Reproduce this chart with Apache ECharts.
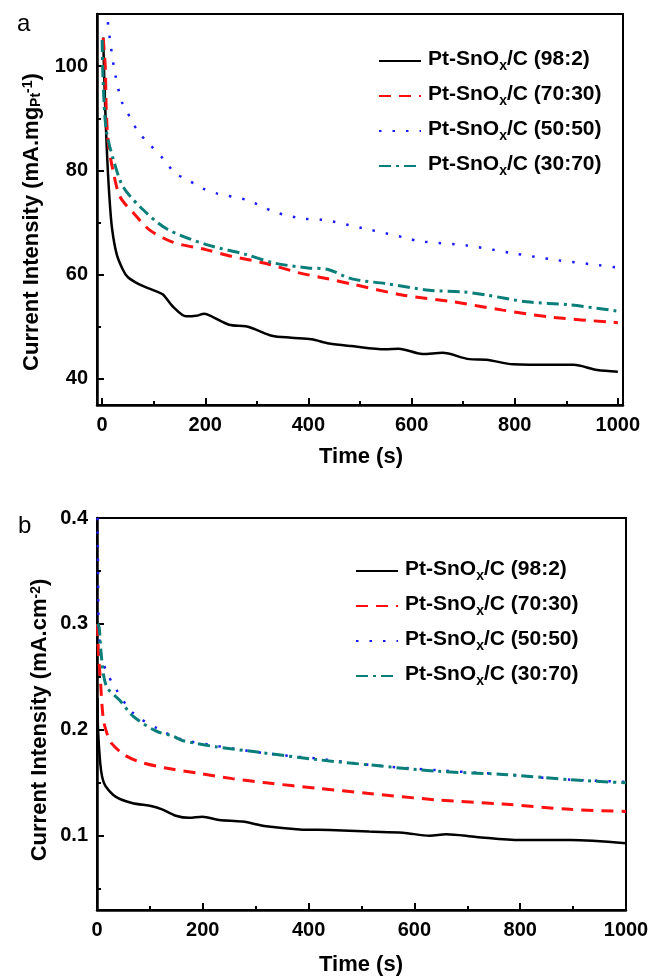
<!DOCTYPE html>
<html><head><meta charset="utf-8">
<script src="https://cdn.jsdelivr.net/npm/echarts@6/dist/echarts.min.js"></script>
<style>html,body{margin:0;padding:0;background:#fff}#c{width:652px;height:977px}</style>
</head><body><div id="c"></div>
<script>
// ---------- data ----------
const names = ['Pt-SnOx/C (98:2)', 'Pt-SnOx/C (70:30)', 'Pt-SnOx/C (50:50)', 'Pt-SnOx/C (30:70)'];

// panel a (mA.mg_Pt^-1)
const aBlackT = [2, 4, 7, 10, 14, 19, 28, 40, 50, 73, 105, 118, 137, 163, 182, 198, 214, 246, 278, 297, 329, 367, 406, 440, 484, 549, 575, 621, 660, 712, 745, 797, 875, 914, 960, 1000];
const aBlackV = [105.5, 98, 89, 82, 75, 69, 64, 61, 59.5, 58.1, 56.8, 56.2, 53.9, 52.0, 52.1, 52.5, 51.9, 50.4, 50.1, 49.5, 48.3, 47.9, 47.6, 46.8, 46.3, 45.7, 45.8, 44.8, 45.0, 43.8, 43.7, 42.8, 42.7, 42.7, 41.7, 41.4];
const aRedT = [2, 6, 8, 12, 22, 35, 61, 93, 138, 201, 252, 316, 380, 438, 484, 582, 680, 777, 875, 1000];
const aRedV = [105.4, 99.9, 91.6, 85.2, 79.5, 74.9, 71.8, 68.5, 66.2, 64.8, 63.5, 62.2, 60.4, 59.2, 58.2, 56.1, 54.8, 53.2, 51.8, 50.8];
const aBlueT = [8, 16, 25, 38, 54, 70, 93, 118, 141, 167, 196, 222, 281, 335, 393, 422, 506, 591, 616, 707, 797, 881, 965, 995];
const aBlueV = [111, 104.4, 98.6, 93.2, 90.2, 87.4, 84.9, 82.3, 79.5, 78.1, 76.5, 75.6, 74.3, 72.0, 70.7, 70.6, 68.9, 67.0, 66.4, 65.6, 64.1, 62.8, 61.8, 61.4];
const aTealT = [0, 2, 8, 22, 41, 80, 125, 201, 278, 335, 399, 438, 484, 549, 634, 699, 745, 823, 908, 1000];
const aTealV = [105, 96.7, 87.7, 82, 76.8, 72.4, 68.8, 65.8, 63.9, 62.2, 61.3, 61.0, 59.2, 58.3, 57.0, 56.7, 56.1, 54.8, 54.2, 53.0];

// panel b (mA.cm^-2)
const bBlackT = [1, 2, 6, 10, 16, 35, 66, 104, 123, 149, 174, 199, 231, 275, 320, 383, 440, 514, 578, 629, 660, 717, 800, 895, 1000];
const bBlackV = [0.23, 0.2, 0.169, 0.155, 0.147, 0.137, 0.131, 0.128, 0.125, 0.119, 0.117, 0.118, 0.115, 0.1135, 0.109, 0.106, 0.1055, 0.104, 0.103, 0.100, 0.1015, 0.099, 0.096, 0.096, 0.093];
const bRedT = [1, 3, 6, 12, 20, 28, 50, 79, 130, 193, 256, 320, 415, 514, 641, 768, 895, 1000];
const bRedV = [0.3, 0.27, 0.25, 0.21, 0.195, 0.187, 0.177, 0.170, 0.164, 0.159, 0.154, 0.150, 0.145, 0.140, 0.134, 0.130, 0.125, 0.123];
const bBlueT = [1, 2, 3, 8, 18, 34, 68, 119, 161, 225, 288, 351, 415, 514, 641, 768, 895, 1000];
const bBlueV = [0.4, 0.35, 0.3, 0.27, 0.255, 0.24, 0.216, 0.2, 0.191, 0.185, 0.18, 0.176, 0.173, 0.167, 0.162, 0.158, 0.153, 0.151];
const bTealT = [1, 4, 9, 18, 43, 68, 111, 144, 161, 225, 288, 351, 415, 514, 641, 768, 895, 1000];
const bTealV = [0.3, 0.297, 0.266, 0.241, 0.228, 0.213, 0.199, 0.194, 0.19, 0.184, 0.18, 0.176, 0.172, 0.167, 0.161, 0.158, 0.153, 0.150];

// tick labels
const xTicks = [0, 200, 400, 600, 800, 1000];
const xMinor = [100, 300, 500, 700, 900];
const aYTicks = [40, 60, 80, 100];
const aYMinor = [50, 70, 90];
const bYTicks = [0.1, 0.2, 0.3, 0.4];
const bYMinor = [0.05, 0.15, 0.25, 0.35];

// ---------- chart ----------
const zip = (t, v) => t.map((x, i) => [x, v[i]]);
const FONT = '"Liberation Sans", Arial, sans-serif';
const styles = [
  {color: '#000000', lineStyle: {width: 2.5, type: 'solid'}},
  {color: '#ff1010', lineStyle: {width: 3, type: [12, 8]}},
  {color: '#1a1aff', lineStyle: {width: 2.5, type: [2.5, 11]}},
  {color: '#0a7f7a', lineStyle: {width: 3, type: [12, 5, 3, 5]}}
];
function mkSeries(name, idx, data, xi, yi) {
  const s = styles[idx];
  return {type: 'line', name: name, data: data, xAxisIndex: xi, yAxisIndex: yi,
    showSymbol: false, symbol: 'none', smooth: 0.3, clip: true,
    itemStyle: {color: s.color},
    lineStyle: {color: s.color, width: s.lineStyle.width, type: s.lineStyle.type}};
}
const lab = {fontFamily: FONT, fontWeight: 'bold', fontSize: 20, color: '#000'};
function xMain(grid, min, max) {
  return {type: 'value', gridIndex: grid, min: min, max: max, position: 'bottom',
    axisLine: {show: true, onZero: false, lineStyle: {color: '#000', width: 2.5}},
    axisTick: {show: true, inside: true, length: 7, customValues: xTicks, lineStyle: {color: '#000', width: 2}},
    axisLabel: Object.assign({show: true, margin: 10, customValues: xTicks, formatter: v => String(v)}, lab),
    splitLine: {show: false}};
}
function xMin(grid, min, max) {
  return {type: 'value', gridIndex: grid, min: min, max: max, position: 'bottom',
    axisLine: {show: false, onZero: false},
    axisTick: {show: true, inside: true, length: 4, customValues: xMinor, lineStyle: {color: '#000', width: 2}},
    axisLabel: {show: false}, splitLine: {show: false}};
}
function yMain(grid, min, max, ticks, fmt) {
  return {type: 'value', gridIndex: grid, min: min, max: max, position: 'left',
    axisLine: {show: true, onZero: false, lineStyle: {color: '#000', width: 2.5}},
    axisTick: {show: true, inside: true, length: 7, customValues: ticks, lineStyle: {color: '#000', width: 2}},
    axisLabel: Object.assign({show: true, margin: 9, customValues: ticks, formatter: fmt}, lab),
    splitLine: {show: false}};
}
function yMin(grid, min, max, ticks) {
  return {type: 'value', gridIndex: grid, min: min, max: max, position: 'left',
    axisLine: {show: false, onZero: false},
    axisTick: {show: true, inside: true, length: 4, customValues: ticks, lineStyle: {color: '#000', width: 2}},
    axisLabel: {show: false}, splitLine: {show: false}};
}
const legendRich = {
  m: {fontFamily: FONT, fontWeight: 'bold', fontSize: 21, color: '#000', lineHeight: 24, verticalAlign: 'top'},
  s: {fontFamily: FONT, fontWeight: 'bold', fontSize: 14, color: '#000', lineHeight: 14, padding: [12, 0, 0, 0], verticalAlign: 'bottom'}
};
function legendFmt(n) {
  const p = n.split('SnOx');
  return '{m|' + p[0] + 'SnO}{s|x}{m|' + p[1] + '}';
}
function mkLegend(left, top, gap) {
  return {orient: 'vertical', left: left, top: top, padding: 0, itemWidth: 42, itemHeight: 14, itemGap: gap,
    data: names, formatter: legendFmt, selectedMode: false,
    itemStyle: {opacity: 0, borderWidth: 0},
    textStyle: {rich: legendRich, padding: [0, 0, 0, 2]}};
}

const chart = echarts.init(document.getElementById('c'), null, {renderer: 'canvas'});
const titleRich = {
  m: {fontFamily: FONT, fontWeight: 'bold', fontSize: 22, color: '#000', lineHeight: 22, verticalAlign: 'bottom'},
  u: {fontFamily: FONT, fontWeight: 'bold', fontSize: 14, color: '#000', lineHeight: 14, padding: [0, 0, 14, 0], verticalAlign: 'top'},
  d: {fontFamily: FONT, fontWeight: 'bold', fontSize: 14, color: '#000', lineHeight: 14, padding: [14, 0, 0, 0], verticalAlign: 'bottom'}
};
chart.setOption({
  animation: false,
  backgroundColor: '#fff',
  grid: [
    {left: 97, right: 29, top: 14, bottom: 572, show: true, borderColor: '#000', borderWidth: 2, backgroundColor: 'transparent'},
    {left: 97, right: 26, top: 518, bottom: 67, show: true, borderColor: '#000', borderWidth: 2, backgroundColor: 'transparent'}
  ],
  xAxis: [xMain(0, -10, 1010), xMin(0, -10, 1010), xMain(1, 0, 1000), xMin(1, 0, 1000)],
  yAxis: [
    yMain(0, 35, 110, aYTicks, v => String(v)),
    yMin(0, 35, 110, aYMinor),
    yMain(1, 0.03, 0.4, bYTicks, v => v.toFixed(1)),
    yMin(1, 0.03, 0.4, bYMinor)
  ],
  legend: [mkLegend(378, 47, 9), mkLegend(355, 557, 9)],
  series: [
    mkSeries(names[0], 0, zip(aBlackT, aBlackV), 0, 0),
    mkSeries(names[1], 1, zip(aRedT, aRedV), 0, 0),
    mkSeries(names[2], 2, zip(aBlueT, aBlueV), 0, 0),
    mkSeries(names[3], 3, zip(aTealT, aTealV), 0, 0),
    mkSeries(names[0], 0, zip(bBlackT, bBlackV), 2, 2),
    mkSeries(names[1], 1, zip(bRedT, bRedV), 2, 2),
    mkSeries(names[2], 2, zip(bBlueT, bBlueV), 2, 2),
    mkSeries(names[3], 3, zip(bTealT, bTealV), 2, 2)
  ],
  graphic: [
    {type: 'text', left: 17, top: 12, style: {text: 'a', font: '24px ' + FONT, fill: '#000'}},
    {type: 'text', left: 18, top: 514, style: {text: 'b', font: '24px ' + FONT, fill: '#000'}},
    {type: 'text', x: 361, y: 457, style: {text: 'Time (s)', font: 'bold 22px ' + FONT, fill: '#000', align: 'center', verticalAlign: 'middle'}},
    {type: 'text', x: 361, y: 965, style: {text: 'Time (s)', font: 'bold 22px ' + FONT, fill: '#000', align: 'center', verticalAlign: 'middle'}},
    {type: 'text', x: 32, y: 222, rotation: Math.PI / 2,
      style: {text: '{m|Current Intensity (mA.mg}{d|Pt}{u|-1}{m|)}', rich: titleRich, align: 'center', verticalAlign: 'middle'}},
    {type: 'text', x: 40, y: 720, rotation: Math.PI / 2,
      style: {text: '{m|Current Intensity (mA.cm}{u|-2}{m|)}', rich: titleRich, align: 'center', verticalAlign: 'middle'}}
  ]
});
</script></body></html>
